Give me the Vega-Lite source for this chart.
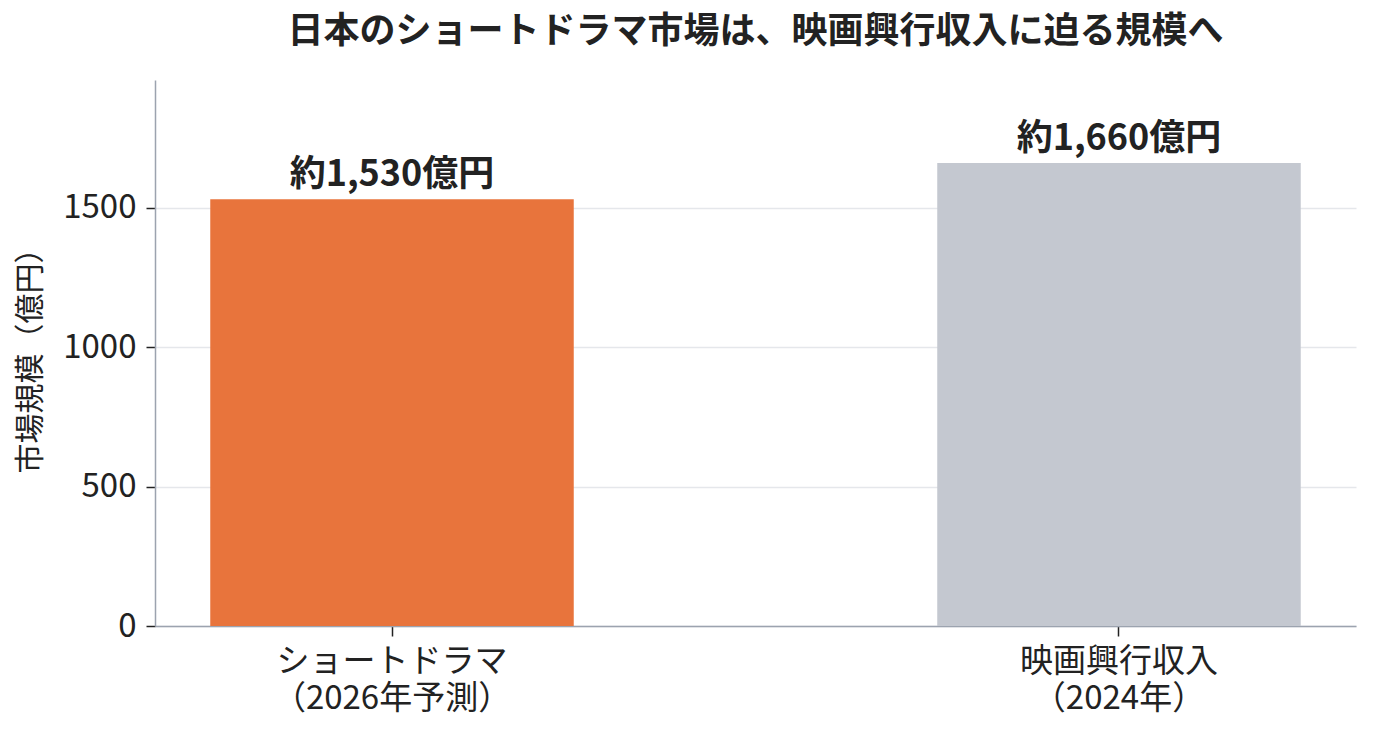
{
  "$schema": "https://vega.github.io/schema/vega-lite/v6.json",
  "autosize": "none",
  "width": 1201,
  "height": 546,
  "padding": {"left": 155, "top": 80, "right": 19, "bottom": 115},
  "background": "white",
  "config": {
    "font": "Noto Sans CJK JP",
    "view": {"stroke": null}
  },
  "title": {
    "text": "日本のショートドラマ市場は、映画興行収入に迫る規模へ",
    "font": "Noto Sans CJK JP",
    "fontSize": 36,
    "fontWeight": "bold",
    "color": "#222222",
    "anchor": "middle",
    "baseline": "alphabetic",
    "offset": 1
  },
  "data": {
    "values": [
      {"category": "ショートドラマ\n（2026年予測）", "value": 1530, "label": "約1,530億円", "group": "drama"},
      {"category": "映画興行収入\n（2024年）", "value": 1660, "label": "約1,660億円", "group": "movie"}
    ]
  },
  "encoding": {
    "x": {
      "field": "category",
      "type": "nominal",
      "sort": null,
      "scale": {"paddingInner": 0.5, "paddingOuter": 0.076},
      "axis": {
        "title": null,
        "labelAngle": 0,
        "labelExpr": "split(datum.label, '\\n')",
        "labelLimit": 0,
        "labelFontSize": 33,
        "labelColor": "#222222",
        "labelLineHeight": 37,
        "labelPadding": 9,
        "domainColor": "#9CA3AF",
        "domainWidth": 1.5,
        "tickColor": "#222222",
        "tickSize": 10,
        "tickWidth": 1.5,
        "grid": false
      }
    },
    "y": {
      "field": "value",
      "type": "quantitative",
      "scale": {"domain": [0, 1958], "nice": false},
      "axis": {
        "title": "市場規模（億円）",
        "titleFontSize": 30,
        "titleFontWeight": "normal",
        "titleColor": "#222222",
        "titlePadding": 17,
        "values": [0, 500, 1000, 1500],
        "format": "d",
        "labelFontSize": 33,
        "labelColor": "#222222",
        "labelPadding": 10,
        "domainColor": "#9CA3AF",
        "domainWidth": 1.5,
        "tickColor": "#222222",
        "tickSize": 9,
        "tickWidth": 1.5,
        "gridColor": "#E5E7EB",
        "gridWidth": 1.5
      }
    }
  },
  "layer": [
    {
      "mark": {"type": "bar"},
      "encoding": {
        "color": {
          "field": "group",
          "type": "nominal",
          "scale": {"domain": ["drama", "movie"], "range": ["#E8743C", "#C4C8D0"]},
          "legend": null
        }
      }
    },
    {
      "mark": {
        "type": "text",
        "baseline": "alphabetic",
        "dy": -13,
        "fontSize": 36,
        "fontWeight": "bold",
        "color": "#222222"
      },
      "encoding": {
        "text": {"field": "label"}
      }
    }
  ]
}
